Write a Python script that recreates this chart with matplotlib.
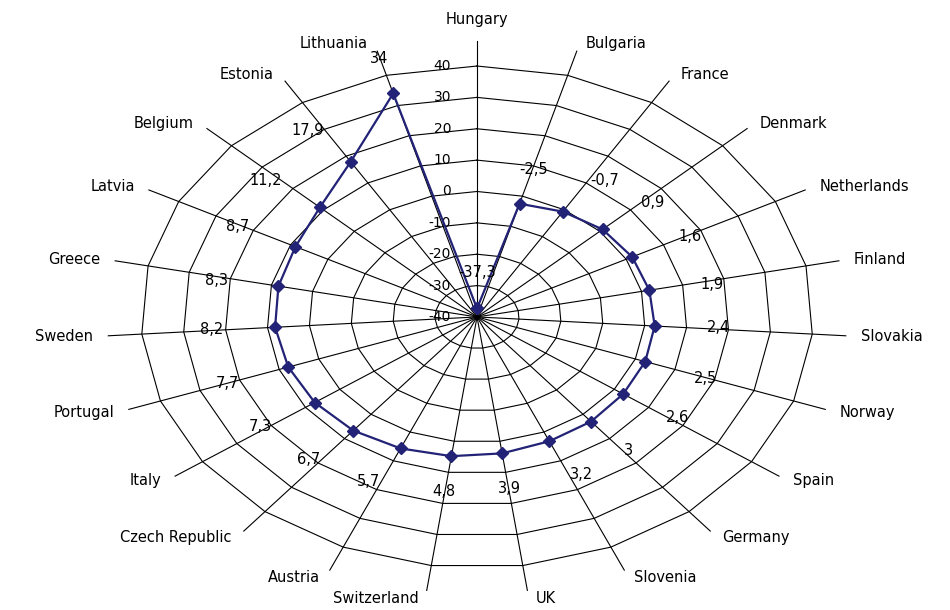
import numpy as np
import matplotlib
matplotlib.use("Agg")
import matplotlib.pyplot as plt

categories = ["Hungary", "Bulgaria", "France", "Denmark", "Netherlands", "Finland",
              "Slovakia", "Norway", "Spain", "Germany", "Slovenia", "UK",
              "Switzerland", "Austria", "Czech Republic", "Italy", "Portugal",
              "Sweden", "Greece", "Latvia", "Belgium", "Estonia", "Lithuania"]
values = [-37.3, -2.5, -0.7, 0.9, 1.6, 1.9, 2.4, 2.5, 2.6, 3.0, 3.2, 3.9,
          4.8, 5.7, 6.7, 7.3, 7.7, 8.2, 8.3, 8.7, 11.2, 17.9, 34.0]
rticks = [-40, -30, -20, -10, 0, 10, 20, 30, 40]

plt.rcParams['font.family'] = ['DejaVu Sans']

fig = plt.figure(figsize=(9.5, 6.1), dpi=100)
ax = fig.add_axes([0.1131, 0.0279, 0.7781, 0.905], projection='polar')
ax.set_theta_zero_location('N')
ax.set_theta_direction(-1)
ax.set_ylim(-40, 48)
ax.set_aspect('auto')
ax.grid(False)
ax.set_xticks([])
ax.set_yticks([])
ax.spines['polar'].set_visible(False)

n = len(categories)
theta = np.arange(n) * 2 * np.pi / n
closed = np.append(theta, theta[0])

# polygonal grid rings
for lv in rticks[1:]:
    ax.plot(closed, [lv] * (n + 1), color='black', lw=0.8, clip_on=False, zorder=1)
# spokes
for t in theta:
    ax.plot([t, t], [-40, 48], color='black', lw=0.8, clip_on=False, zorder=1)

# data series
ax.plot(closed, np.append(values, values[0]), color='#222276', lw=1.6,
        marker='D', ms=6, mfc='#222276', mec='#222276', zorder=5, clip_on=False)

# radial tick labels
for lv in rticks:
    ax.annotate(str(lv), xy=(0, lv), xytext=(-26, 0), textcoords='offset pixels',
                ha='right', va='center', fontsize=10, color='black')

# data labels
for t, v in zip(theta, values):
    s, c = np.sin(t), np.cos(t)
    ha = 'left' if s > 0.3 else ('right' if s < -0.3 else 'center')
    va = 'bottom' if c > 0.3 else ('top' if c < -0.3 else 'center')
    lab = f"{v:g}".replace('.', ',')
    ax.annotate(lab, xy=(t, v), xytext=(52 * s, 28 * c), textcoords='offset pixels',
                ha=ha, va=va, fontsize=10.5, color='black', zorder=6)

# category labels
for t, name in zip(theta, categories):
    s, c = np.sin(t), np.cos(t)
    if abs(s) < 0.05:
        ax.annotate(name, xy=(t, 48), xytext=(0, 14), textcoords='offset pixels',
                    ha='center', va='bottom', fontsize=10.5)
    else:
        sg = 1 if s > 0 else -1
        ax.annotate(name, xy=(t, 48), xytext=(sg * (7 + 8 * abs(s)), 8 * c),
                    textcoords='offset pixels', ha='left' if s > 0 else 'right',
                    va='center', fontsize=10.5)

fig.savefig("out.png", dpi=100, facecolor='white')
